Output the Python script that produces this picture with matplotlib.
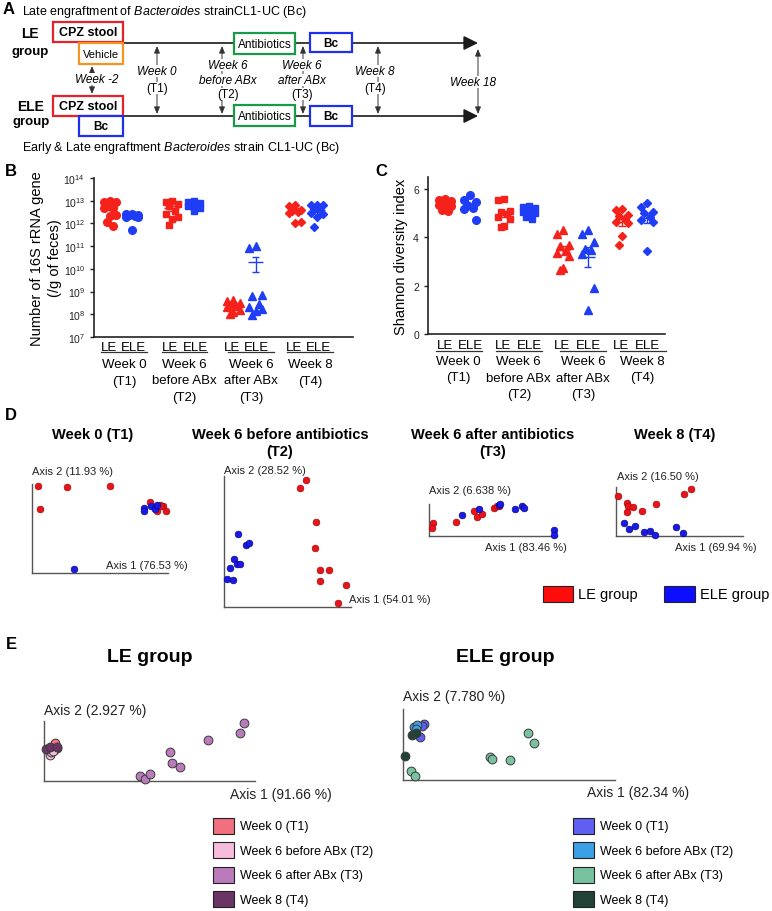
import numpy as np
import matplotlib
matplotlib.use("Agg")
import matplotlib.pyplot as plt
from matplotlib.patches import Rectangle
from matplotlib.transforms import offset_copy

plt.rcParams['font.family'] = ['Liberation Sans', 'DejaVu Sans']
plt.rcParams['mathtext.fontset'] = 'custom'
plt.rcParams['mathtext.rm'] = 'Liberation Sans'
plt.rcParams['mathtext.it'] = 'Liberation Sans:italic'
plt.rcParams['mathtext.bf'] = 'Liberation Sans:bold'
plt.rcParams['mathtext.default'] = 'regular'

W, H = 772, 912
RED = '#f5221b'
BLUE = '#1f3df5'

# ---------------- data ----------------
timepoints = ['Week 0\n(T1)', 'Week 6\nbefore ABx\n(T2)', 'Week 6\nafter ABx\n(T3)', 'Week 8\n(T4)']
groups = ['LE', 'ELE']
markers = ['o', 's', '^', 'D']
msizes = [5.5, 5, 5.5, 4]

# B: log10 number of 16S rRNA gene copies per g feces
b_le = [[12.97, 12.95, 12.93, 12.83, 12.70, 12.68, 12.35, 12.33, 12.08, 11.87],
        [13.0, 12.95, 12.85, 12.75, 12.55, 12.4, 12.3, 12.2, 11.95],
        [8.65, 8.6, 8.5, 8.4, 8.35, 8.3, 8.2, 8.1, 8.0],
        [12.83, 12.78, 12.6, 12.55, 12.5, 12.45, 12.05, 12.0]]
b_ele = [[12.42, 12.40, 12.38, 12.35, 12.33, 12.30, 12.27, 11.73],
         [13.0, 12.95, 12.9, 12.85, 12.8, 12.75, 12.7, 12.55],
         [11.0, 10.94, 8.83, 8.8, 8.46, 8.33, 8.24, 8.14, 7.99],
         [12.83, 12.82, 12.8, 12.65, 12.57, 12.45, 12.42, 12.3, 11.83]]

# C: Shannon diversity index
c_le = [[5.6, 5.55, 5.5, 5.45, 5.4, 5.35, 5.3, 5.25, 5.15, 5.1],
        [5.57, 5.55, 5.08, 5.05, 4.95, 4.85, 4.78, 4.47, 4.45],
        [4.3, 4.12, 3.67, 3.65, 3.47, 3.36, 3.25, 2.74, 2.67],
        [5.17, 5.15, 4.93, 4.9, 4.78, 4.65, 4.6, 4.04, 3.67]]
c_ele = [[5.75, 5.55, 5.47, 5.35, 5.22, 5.18, 4.7],
         [5.3, 5.25, 5.2, 5.15, 5.1, 5.05, 5.0, 4.95, 4.85, 4.75],
         [4.3, 4.12, 3.8, 3.53, 3.46, 3.32, 1.89, 0.99],
         [5.44, 5.26, 5.06, 5.03, 4.85, 4.71, 4.65, 3.43]]

# D: PCoA per time point (axis 1, axis 2 scaled to plot box)
d_titles = ['Week 0 (T1)', 'Week 6 before antibiotics\n(T2)', 'Week 6 after antibiotics\n(T3)', 'Week 8 (T4)']
d_axis1 = ['Axis 1 (76.53 %)', 'Axis 1 (54.01 %)', 'Axis 1 (83.46 %)', 'Axis 1 (69.94 %)']
d_axis2 = ['Axis 2 (11.93 %)', 'Axis 2 (28.52 %)', 'Axis 2 (6.638 %)', 'Axis 2 (16.50 %)']
d_le_x = [[0.044, 0.261, 0.573, 0.056, 0.866, 0.939, 0.963, 0.988, 0.920, 0.951],
          [0.645, 0.595, 0.726, 0.718, 0.758, 0.824, 0.758, 0.963, 0.895],
          [0.029, 0.026, 0.211, 0.352, 0.373, 0.413, 0.504, 0.530, 0.548],
          [0.594, 0.537, 0.018, 0.089, 0.097, 0.136, 0.089, 0.207, 0.314]]
d_le_y = [[0.981, 0.963, 0.974, 0.720, 0.802, 0.765, 0.750, 0.694, 0.701, 0.757],
          [0.967, 0.906, 0.649, 0.448, 0.282, 0.282, 0.196, 0.168, 0.028],
          [0.412, 0.247, 0.433, 0.794, 0.588, 0.691, 0.876, 0.948, 0.928],
          [0.966, 0.864, 0.816, 0.680, 0.605, 0.592, 0.490, 0.510, 0.653]]
d_ele_x = [[0.822, 0.822, 0.878, 0.902, 0.920, 0.310],
           [0.111, 0.171, 0.197, 0.082, 0.105, 0.126, 0.047, 0.026, 0.074],
           [0.261, 0.394, 0.543, 0.556, 0.668, 0.726, 0.739, 0.974, 0.974],
           [0.065, 0.105, 0.147, 0.220, 0.267, 0.306, 0.469, 0.524]]
d_ele_y = [[0.728, 0.694, 0.757, 0.720, 0.765, 0.049],
           [0.560, 0.473, 0.486, 0.364, 0.331, 0.331, 0.295, 0.211, 0.206],
           [0.660, 0.845, 0.969, 1.0, 0.845, 0.928, 0.866, 0.175, 0.041],
           [0.259, 0.150, 0.197, 0.082, 0.095, 0.014, 0.184, 0.061]]

# E: PCoA per group over time
e_labels = ['Week 0 (T1)', 'Week 6 before ABx (T2)', 'Week 6 after ABx (T3)', 'Week 8 (T4)']
e_le_colors = ['#f06f80', '#f7bbdc', '#b97bb9', '#6a3566']
e_ele_colors = ['#5f5ff2', '#3da0e6', '#78c2a0', '#234237']
e_le_x = [[0.052, 0.063, 0.047], [0.028, 0.035, 0.045],
          [0.455, 0.479, 0.502, 0.597, 0.605, 0.645, 0.779, 0.929, 0.948],
          [0.009, 0.030, 0.060]]
e_le_y = [[0.63, 0.55, 0.51], [0.44, 0.48, 0.50],
          [0.083, 0.039, 0.111, 0.483, 0.294, 0.239, 0.683, 0.806, 0.961],
          [0.54, 0.56, 0.56]]
e_ele_x = [[0.097, 0.078, 0.090], [0.050, 0.066, 0.060],
           [0.589, 0.620, 0.411, 0.422, 0.505, 0.038, 0.058],
           [0.042, 0.060, 0.011]]
e_ele_y = [[0.79, 0.61, 0.76], [0.74, 0.77, 0.72],
           [0.660, 0.519, 0.330, 0.302, 0.283, 0.127, 0.057],
           [0.632, 0.660, 0.340]]

# ---------------- figure ----------------
fig = plt.figure(figsize=(W / 100, H / 100), dpi=100)
ax0 = fig.add_axes([0, 0, 1, 1])
ax0.set_xlim(0, W)
ax0.set_ylim(H, 0)
ax0.axis('off')


def px_axes(x0, y0, x1, y1):
    a = fig.add_axes([x0 / W, 1 - y1 / H, (x1 - x0) / W, (y1 - y0) / H])
    a.set_facecolor('none')
    return a


def t(x, y, s, **kw):
    kw.setdefault('va', 'center')
    ax0.text(x, y, s, **kw)


# panel letters
for letter, x, y in [('A', 3, 10), ('B', 5, 172), ('C', 375, 172), ('D', 5, 416), ('E', 6, 645)]:
    t(x, y, letter, fontsize=12, fontweight='bold')

# ---------------- A: timeline ----------------
t(22, 12, r'Late engraftment of $\it{Bacteroides}$ strainCL1-UC (Bc)', fontsize=9)
t(22, 148, r'Early & Late engraftment $\it{Bacteroides}$ strain CL1-UC (Bc)', fontsize=9)
t(30, 34, 'LE', fontsize=10, fontweight='bold', ha='center')
t(30, 52, 'group', fontsize=9.5, fontweight='bold', ha='center')
t(31, 107, 'ELE', fontsize=10, fontweight='bold', ha='center')
t(31, 122, 'group', fontsize=9.5, fontweight='bold', ha='center')

for yl in [44, 117]:
    ax0.annotate('', xy=(478, yl), xytext=(123, yl),
                 arrowprops=dict(arrowstyle='-|>,head_length=0.86,head_width=0.43',
                                 lw=1.2, color='#1a1a1a', mutation_scale=10, shrinkA=0, shrinkB=0))

boxes = [((53, 23, 123, 43), '#e8202a', 'CPZ stool', 'bold', 9),
         ((79, 44, 123, 65), '#f7931e', 'Vehicle', 'normal', 8),
         ((234, 34, 295, 55), '#1a9a48', 'Antibiotics', 'normal', 8.5),
         ((310, 34, 352, 53), '#1f2ff0', 'Bc', 'bold', 8.5),
         ((53, 97, 123, 117), '#e8202a', 'CPZ stool', 'bold', 9),
         ((79, 117, 123, 137), '#1f2ff0', 'Bc', 'bold', 8.5),
         ((234, 106, 295, 127), '#1a9a48', 'Antibiotics', 'normal', 8.5),
         ((310, 107, 352, 127), '#1f2ff0', 'Bc', 'bold', 8.5)]
for (x0, y0, x1, y1), col, label, fw, fs in boxes:
    ax0.add_patch(Rectangle((x0, y0), x1 - x0, y1 - y0, facecolor='white', edgecolor=col, lw=1.6, zorder=3))
    t((x0 + x1) / 2, (y0 + y1) / 2 + 0.5, label, ha='center', fontsize=fs, fontweight=fw, zorder=4)


def darrow(x, y0, y1):
    ax0.annotate('', xy=(x, y0), xytext=(x, y1),
                 arrowprops=dict(arrowstyle='<|-|>,head_length=0.6,head_width=0.25', lw=0.7,
                                 color='#333333', mutation_scale=7, shrinkA=0, shrinkB=0), zorder=2)


def wlabel(x, y, s, italic=True):
    t(x, y, s, ha='center', fontsize=8.5, style='italic' if italic else 'normal', zorder=5,
      bbox=dict(facecolor='white', edgecolor='none', pad=0.3))


darrow(92, 67, 95)
wlabel(97, 80, 'Week -2')
darrow(157, 47, 115)
wlabel(157, 72, 'Week 0')
wlabel(157, 89, '(T1)', False)
darrow(222, 47, 115)
wlabel(228, 66, 'Week 6')
wlabel(228, 81, 'before ABx')
wlabel(228, 95, '(T2)', False)
darrow(303, 47, 115)
wlabel(302, 66, 'Week 6')
wlabel(302, 81, 'after ABx')
wlabel(302, 95, '(T3)', False)
darrow(378, 47, 115)
wlabel(375, 72, 'Week 8')
wlabel(375, 89, '(T4)', False)
darrow(478, 50, 115)
wlabel(473, 83, 'Week 18')


# ---------------- B & C: dot plots ----------------
def spread(n, w):
    pattern = np.array([0, -1, 1, -0.5, 0.5, -1, 1, 0, -0.5, 0.5, 0.2])
    return w * pattern[:n]


def dotplot(ax, le, ele, off, jw, log):
    for i in range(4):
        for j, (vals, col) in enumerate([(le[i], RED), (ele[i], BLUE)]):
            xc = i + 1 + (j * 2 - 1) * off
            v = np.sort(np.array(vals))[::-1]
            if log:
                v = 10 ** v
            ax.plot(xc + spread(len(v), jw), v, ls='none', marker=markers[i], ms=msizes[i],
                    color=col, mec=col, zorder=3, clip_on=False)
            m = v.mean()
            s = v.std(ddof=1) / np.sqrt(len(v))
            ax.hlines(m, xc - 0.12, xc + 0.12, color=col, lw=1, zorder=4)
            ax.vlines(xc, m - s, m + s, color=col, lw=1, zorder=4)
            ax.hlines([m - s, m + s], xc - 0.06, xc + 0.06, color=col, lw=1, zorder=4)
    for sp in ['top', 'right']:
        ax.spines[sp].set_visible(False)
    for sp in ['left', 'bottom']:
        ax.spines[sp].set_linewidth(1.2)
        ax.spines[sp].set_color('#222222')
    ax.set_xticks([])
    ax.tick_params(axis='y', direction='out', length=3, width=1, labelsize=7.5, colors='#222222')


def below(ax, x, dy, s, **kw):
    tr = offset_copy(ax.get_xaxis_transform(), fig=fig, y=-dy, units='dots')
    ax.text(x, 0, s, transform=tr, ha='center', va='baseline', fontsize=9.5, **kw)


def group_labels(ax, off, half, dys, shifts):
    tr_line = offset_copy(ax.get_xaxis_transform(), fig=fig, y=-dys[1], units='dots')
    for i, tp in enumerate(timepoints):
        g = i + 1
        gs = g + shifts[i]
        below(ax, g - off, dys[0], groups[0])
        below(ax, g + off, dys[0], groups[1])
        ax.plot([gs - half, gs + half], [0, 0], color='#333333', lw=0.9, transform=tr_line, clip_on=False)
        for k, line in enumerate(tp.split('\n')):
            below(ax, gs, dys[2] + k * 16.5, line)


axB = px_axes(94, 179, 353, 338)
axB.set_yscale('log')
axB.set_ylim(1e7, 1e14)
axB.set_xlim(0.56, 4.76)
dotplot(axB, b_le, b_ele, 0.18, 0.1, True)
decades = np.arange(7, 15)
axB.set_yticks(10.0 ** decades)
axB.set_yticklabels([r'$10^{%d}$' % d for d in decades])
axB.yaxis.set_minor_locator(matplotlib.ticker.NullLocator())
axB.set_ylabel('Number of 16S rRNA gene\n(/g of feces)', fontsize=10.5, labelpad=1, linespacing=1.35)
group_labels(axB, 0.2, 0.37, (13, 15, 30), [0.05, 0.03, 0.11, 0.06])

axC = px_axes(428, 178, 665, 335)
axC.set_ylim(0, 6.5)
axC.set_xlim(0.5, 4.52)
dotplot(axC, c_le, c_ele, 0.21, 0.1, False)
axC.set_yticks([0, 2, 4, 6])
axC.set_ylabel('Shannon diversity index', fontsize=10.5, labelpad=4)
group_labels(axC, 0.22, 0.39, (14, 17, 30), [0.02, 0.04, 0.13, 0.14])

# ---------------- D: PCoA per time point ----------------
d_boxes = [(32, 485, 168, 574), (224, 477, 351, 608), (429, 505, 557, 537), (616, 488, 743, 537)]
d_title_x = [93, 280, 493, 675]
d_ax2_pos = [(32, 472), (224, 471), (429, 491), (617, 477)]
d_ax1_pos = [(188, 566, 'right'), (349, 600, 'left'), (567, 548, 'right'), (757, 548, 'right')]


def pcoa_axes(box):
    a = px_axes(*box)
    a.set_xlim(0, 1)
    a.set_ylim(0, 1)
    for sp in ['top', 'right']:
        a.spines[sp].set_visible(False)
    for sp in ['left', 'bottom']:
        a.spines[sp].set_color('#555555')
        a.spines[sp].set_linewidth(1.0)
    a.set_xticks([])
    a.set_yticks([])
    return a


for i in range(4):
    a = pcoa_axes(d_boxes[i])
    a.scatter(d_le_x[i], d_le_y[i], s=24, color='#e8141c', edgecolor='#a00000', lw=0.4, clip_on=False, zorder=3)
    a.scatter(d_ele_x[i], d_ele_y[i], s=24, color='#1a1ae0', edgecolor='#000090', lw=0.4, clip_on=False, zorder=3)
    for k, line in enumerate(d_titles[i].split('\n')):
        t(d_title_x[i], 435 + 17 * k, line, ha='center', fontsize=10.5, fontweight='bold')
    t(d_ax2_pos[i][0], d_ax2_pos[i][1], d_axis2[i], fontsize=8, color='#222222')
    t(d_ax1_pos[i][0], d_ax1_pos[i][1], d_axis1[i], fontsize=8, color='#222222', ha=d_ax1_pos[i][2])

for (x0, x1), col, label in zip([(543, 573), (664, 695)], ['#ff0d0d', '#0d0dff'], ['LE group', 'ELE group']):
    ax0.add_patch(Rectangle((x0, 587), x1 - x0, 16, facecolor=col, edgecolor='#222222', lw=0.8))
    t(x1 + 5, 595.5, label, fontsize=10.5)

# ---------------- E: PCoA per group ----------------
e_sets = [((44, 722, 255, 782), e_le_x, e_le_y, e_le_colors, 'LE group', 150,
           ('Axis 2 (2.927 %)', 44, 711), ('Axis 1 (91.66 %)', 332, 795), 213),
          ((403, 710, 615, 781), e_ele_x, e_ele_y, e_ele_colors, 'ELE group', 505,
           ('Axis 2 (7.780 %)', 403, 697), ('Axis 1 (82.34 %)', 689, 793), 573)]
for box, ex, ey, cols, title, tx, ax2l, ax1l, lx in e_sets:
    a = pcoa_axes(box)
    for k in [2, 0, 1, 3]:
        a.scatter(ex[k], ey[k], s=40, color=cols[k], edgecolor='#3a3a3a', lw=0.7, clip_on=False, zorder=3)
    t(tx, 658, title, ha='center', fontsize=14, fontweight='bold')
    t(ax2l[1], ax2l[2], ax2l[0], fontsize=10, color='#222222')
    t(ax1l[1], ax1l[2], ax1l[0], fontsize=10, color='#222222', ha='right')
    for k, (lab, col) in enumerate(zip(e_labels, cols)):
        yc = 827 + 24.5 * k
        ax0.add_patch(Rectangle((lx, yc - 8), 21, 16, facecolor=col, edgecolor='#222222', lw=0.8))
        t(lx + 27, yc + 0.5, lab, fontsize=9)

fig.savefig('out.png', dpi=100)
